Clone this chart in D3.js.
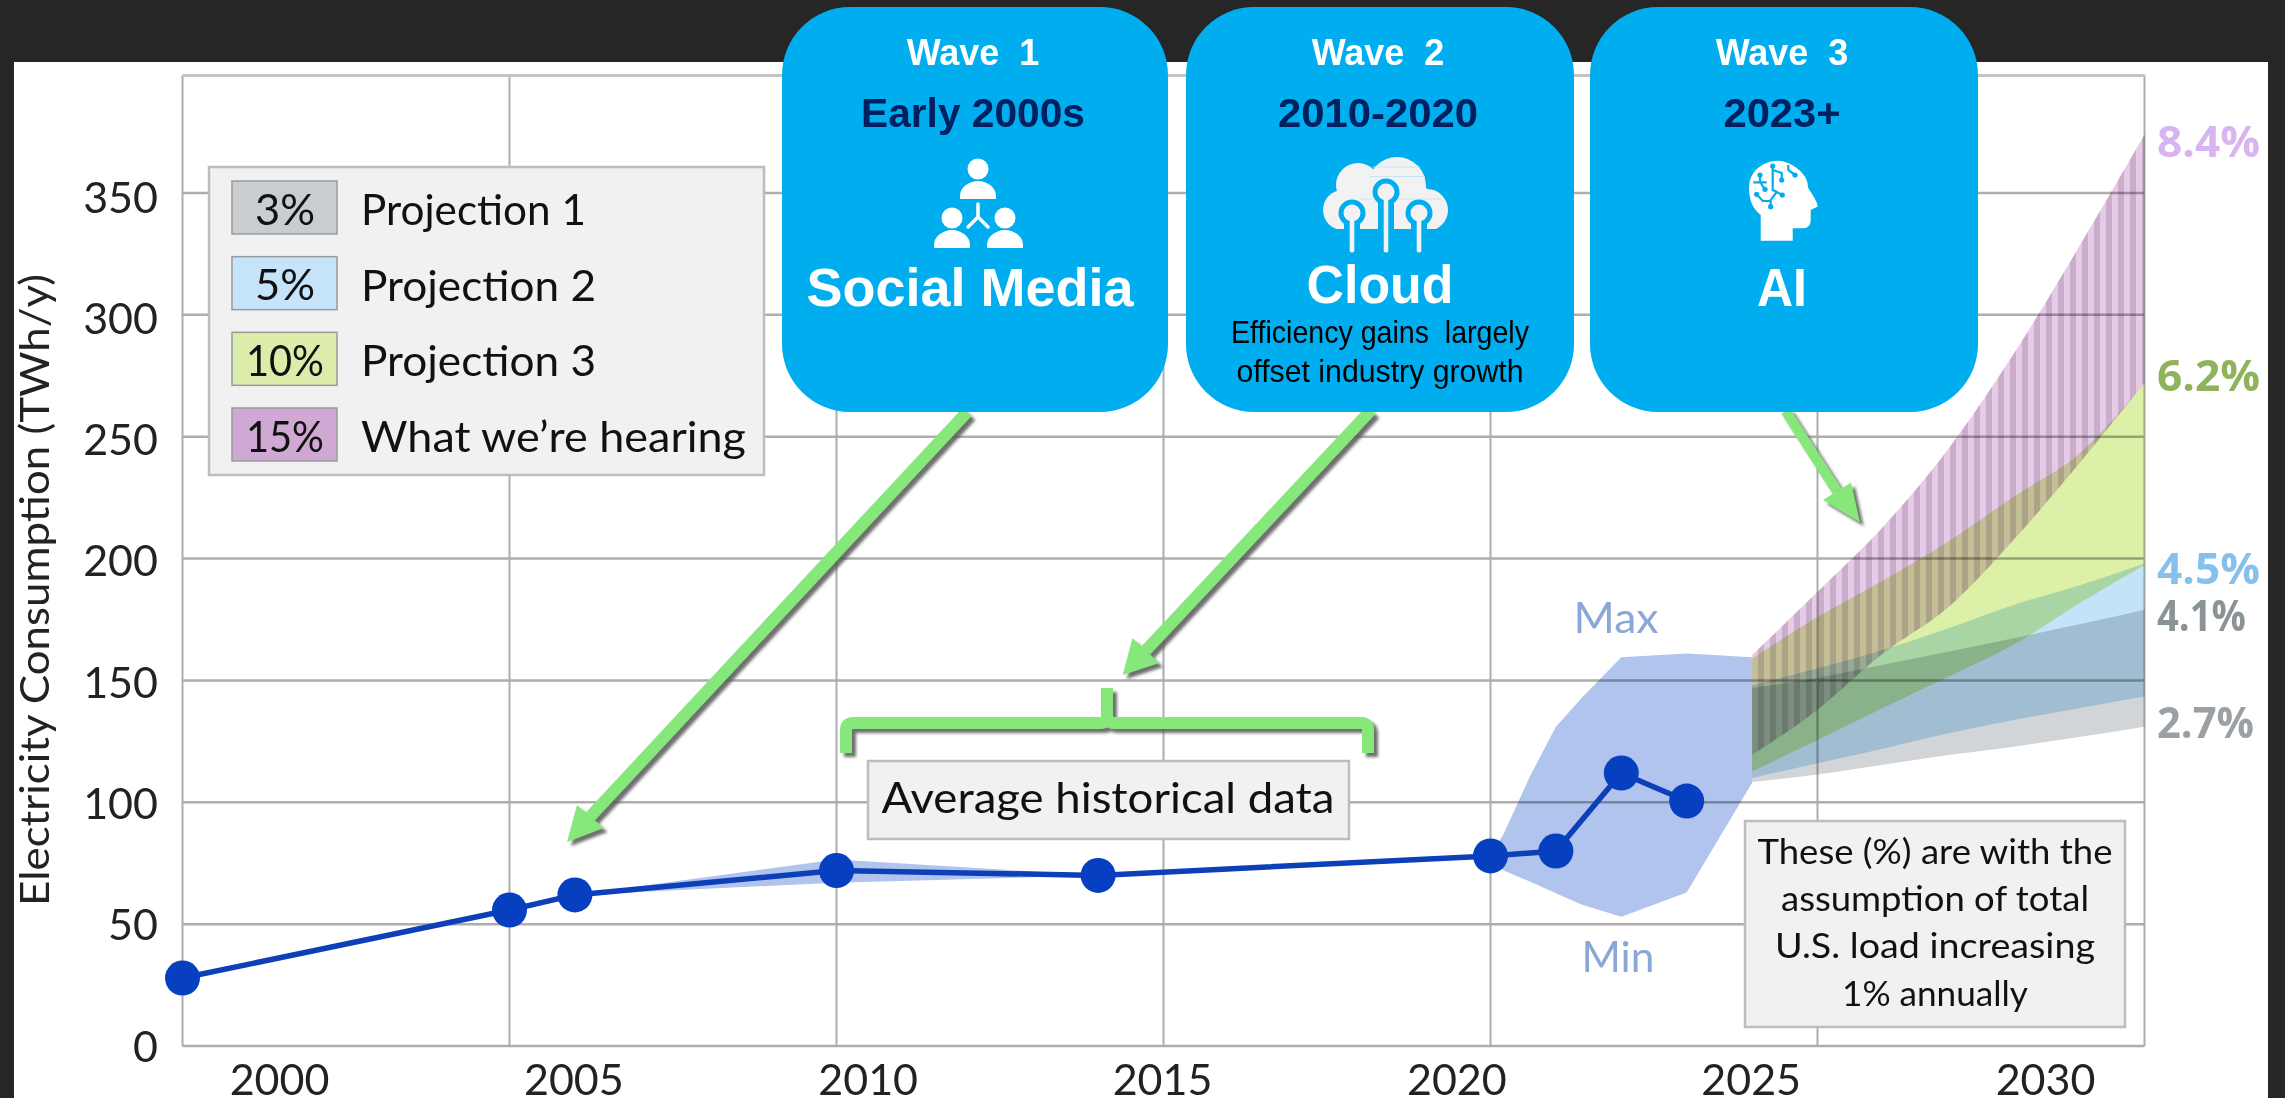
<!DOCTYPE html>
<html><head><meta charset="utf-8">
<script src="https://cdn.jsdelivr.net/npm/d3@7"></script>
<style>html,body{margin:0;padding:0;background:#262626;overflow:hidden}svg{display:block}text{font-family:Lato,"Open Sans",sans-serif}</style>
</head><body>
<script>
// ---- data ----
const xTicks=[2000,2005,2010,2015,2020,2025,2030];
const yTicks=[0,50,100,150,200,250,300,350];
const histYears=[2000,2005,2006,2010,2014,2020,2021,2022,2023];
const histValues=[27.9,55.8,62,72,70,78,80,112,100.5];
const earlyYears=[2006,2010,2014];
const earlyMax=[62,76.5,70];
const earlyMin=[62,67,70];
const spreadYears=[2020,2020.2,2020.6,2021,2021.4,2022,2023,2024];
const spreadMax=[78,87,110.5,131,143,159.5,161,159.5];
const spreadMin=[78,72,67.5,62.7,58,53,63,108];
const projYears=[2024,2025,2026,2027,2028,2029,2030];
const p1Top=[147,151,156.4,161.8,167.3,173,179];
const p1Bottom=[108.3,111.4,115.4,119.4,122.8,126.8,131];
const p2Top=[148,155,162.5,171.4,181,189,198];
const p2Bottom=[110,116,122,128.3,133.8,138.6,143.4];
const p3Top=[159,176,191,207,225.4,243,272];
const p3Bottom=[112.6,125.6,138.7,151.5,164.7,181.6,197.4];
const p4Top=[160.4,186.4,213,245,284,328,374];
const p4Bottom=[119.4,138,161,180,207.7,239,272];
const legendPct=["3%","5%","10%","15%"];
const legendNames=["Projection 1","Projection 2","Projection 3","What we’re hearing"];
const legendFill=["#c9cdd0","#c5e3f9","#dcedab","#cfa9d3"];
const endLabels=["8.4%","6.2%","4.5%","4.1%","2.7%"];
const noteLines=["These (%) are with the","assumption of total","U.S. load increasing","1% annually"];

// ---- frame ----
const W=2285,H=1098;
const svg=d3.select("body").append("svg").attr("width",W).attr("height",H);
const defs=svg.append("defs");
const f=defs.append("filter").attr("id","sh").attr("x","-20%").attr("y","-20%").attr("width","140%").attr("height","140%");
f.append("feDropShadow").attr("dx",4).attr("dy",4).attr("stdDeviation",1.5).attr("flood-color","#555").attr("flood-opacity",.85);
const pat=defs.append("pattern").attr("id","stripes").attr("patternUnits","userSpaceOnUse").attr("width",12).attr("height",20);
pat.append("rect").attr("width",12).attr("height",20).attr("fill","#e5cbe7");
pat.append("rect").attr("x",6).attr("width",6).attr("height",20).attr("fill","#c9adcb");
defs.append("clipPath").attr("id","cloudClip").append("rect").attr("x",1300).attr("y",140).attr("width",170).attr("height",89);

svg.append("rect").attr("width",W).attr("height",H).attr("fill","#262626");
svg.append("rect").attr("x",14).attr("y",62).attr("width",2254).attr("height",H-62).attr("fill","#fff");

const x=d3.scaleLinear().domain([2000,2030]).range([182.5,2144.5]);
const y=d3.scaleLinear().domain([0,350]).range([1046,193]);
const xLabel=d3.scaleLinear().domain([2000,2030]).range([279,2045]);
const yLabel=d3.scaleLinear().domain([0,350]).range([1061,212]);
const plotTop=75.5;

// grid
const grid=svg.append("g").attr("stroke","#adadad").attr("fill","none");
grid.selectAll(".v").data(xTicks).join("line").attr("x1",d=>x(d)).attr("x2",d=>x(d)).attr("y1",plotTop).attr("y2",y(0)).attr("stroke-width",2);
grid.selectAll(".h").data(yTicks).join("line").attr("x1",x(2000)).attr("x2",x(2030)).attr("y1",d=>y(d)).attr("y2",d=>y(d)).attr("stroke-width",2.5);
grid.append("line").attr("x1",x(2000)).attr("x2",x(2030)).attr("y1",plotTop).attr("y2",plotTop).attr("stroke-width",3).attr("stroke","#c4c4c4");

// axes labels
const ax=svg.append("g").attr("transform","translate(0,1095)").call(d3.axisBottom(xLabel).tickValues(xTicks).tickSize(0).tickFormat(d3.format("d")));
ax.select(".domain").remove();
ax.selectAll("text").attr("y",0).attr("dy",0).attr("font-size",43).attr("fill","#222").style("font-family","Lato");
const ay=svg.append("g").attr("transform","translate(158,0)").call(d3.axisLeft(yLabel).tickValues(yTicks).tickSize(0));
ay.select(".domain").remove();
ay.selectAll("text").attr("x",0).attr("dy",0).attr("font-size",43).attr("fill","#222").style("font-family","Lato");
svg.append("text").attr("transform","translate(49,906) rotate(-90)").attr("font-size",41).attr("fill","#222")
  .attr("textLength",632).attr("lengthAdjust","spacingAndGlyphs").text("Electricity Consumption (TWh/y)");

// bands
const band=(xs,hi,lo,curve)=>d3.area().x((d,i)=>x(xs[i])).y0((d,i)=>y(lo[i])).y1((d,i)=>y(hi[i])).curve(curve)(xs);
const hist=svg.append("g");
hist.append("path").attr("d",band(earlyYears,earlyMax,earlyMin,d3.curveLinear)).attr("fill","#b0c4ed").style("mix-blend-mode","multiply");
hist.append("path").attr("d",band(spreadYears,spreadMax,spreadMin,d3.curveLinear)).attr("fill","#b0c4ed").style("mix-blend-mode","multiply");
const proj=[[p4Top,p4Bottom,"url(#stripes)"],[p3Top,p3Bottom,"#dcf0a8"],[p2Top,p2Bottom,"#c3e3f8"],[p1Top,p1Bottom,"#d2d5d8"]];
svg.append("g").selectAll("path").data(proj).join("path")
  .attr("d",d=>band(projYears,d[0],d[1],d3.curveMonotoneX)).attr("fill",d=>d[2]).style("mix-blend-mode","multiply");

// legend
const lg=svg.append("g");
lg.append("rect").attr("x",209).attr("y",167).attr("width",555).attr("height",308).attr("fill","#f1f1f1").attr("stroke","#bdbdbd").attr("stroke-width",2.5);
const swY=d3.scalePoint().domain(legendPct).range([181,408]);
const pctW=[60,60,78,78],nameW=[225,235,235,385];
const row=lg.selectAll("g").data(legendPct).join("g").attr("transform",d=>`translate(0,${swY(d)})`);
row.append("rect").attr("x",232).attr("width",105).attr("height",53).attr("fill",(d,i)=>legendFill[i]).attr("stroke","#9a9a9a").attr("stroke-width",1.5);
row.append("text").attr("x",285).attr("y",43.5).attr("text-anchor","middle").attr("font-size",43).attr("fill","#111").attr("textLength",(d,i)=>pctW[i]).attr("lengthAdjust","spacingAndGlyphs").text(d=>d);
row.append("text").attr("x",361).attr("y",44).attr("font-size",43).attr("fill","#111").attr("textLength",(d,i)=>nameW[i]).attr("lengthAdjust","spacingAndGlyphs").text((d,i)=>legendNames[i]);

// history line + markers
const line=d3.line().x((d,i)=>x(histYears[i])).y(d=>y(d));
svg.append("path").attr("d",line(histValues)).attr("fill","none").attr("stroke","#0d3fb8").attr("stroke-width",5.5);
svg.append("g").selectAll("circle").data(histValues).join("circle")
  .attr("cx",(d,i)=>x(histYears[i])).attr("cy",d=>y(d)).attr("r",17.5).attr("fill","#0640c0");

// Max / Min
svg.append("text").attr("x",1616).attr("y",633).attr("text-anchor","middle").attr("font-size",43).attr("fill","#8aa7d8").attr("textLength",85).attr("lengthAdjust","spacingAndGlyphs").text("Max");
svg.append("text").attr("x",1618).attr("y",972).attr("text-anchor","middle").attr("font-size",43).attr("fill","#8aa7d8").attr("textLength",73).attr("lengthAdjust","spacingAndGlyphs").text("Min");

// end labels
const endPos=[157,391,584,631,737.5],endCol=["#d8b4f0","#8fb35a","#85c1ec","#8a9396","#9aa0a3"],endW=[103,103,103,89,97];
svg.append("g").selectAll("text").data(endLabels).join("text").attr("x",2157).attr("y",(d,i)=>endPos[i])
  .attr("font-size",43).attr("font-weight",700).attr("fill",(d,i)=>endCol[i]).attr("textLength",(d,i)=>endW[i]).attr("lengthAdjust","spacingAndGlyphs").style("font-family","Open Sans").text(d=>d);

// average box
svg.append("rect").attr("x",868).attr("y",761).attr("width",481).attr("height",78).attr("fill","#f1f1f1").attr("stroke","#bdbdbd").attr("stroke-width",2.5);
svg.append("text").attr("x",1108).attr("y",813).attr("text-anchor","middle").attr("font-size",43).attr("fill","#111").attr("textLength",453).attr("lengthAdjust","spacingAndGlyphs").text("Average historical data");

// note box
svg.append("rect").attr("x",1745).attr("y",821).attr("width",380).attr("height",206).attr("fill","#f1f1f1").attr("stroke","#bdbdbd").attr("stroke-width",2.5);
const noteW=[355,308,320,186];
svg.append("g").selectAll("text").data(noteLines).join("text").attr("x",1935).attr("y",(d,i)=>[864,911,958,1006][i])
  .attr("text-anchor","middle").attr("font-size",35).attr("fill","#111").attr("textLength",(d,i)=>noteW[i]).attr("lengthAdjust","spacingAndGlyphs").text(d=>d);

// arrows + bracket
const green="#86e87a";
const an=svg.append("g").attr("filter","url(#sh)");
function arrow(sx,sy,tx,ty,b1x,b1y,b2x,b2y,w){
  const mx=(b1x+b2x)/2,my=(b1y+b2y)/2;
  an.append("line").attr("x1",sx).attr("y1",sy).attr("x2",mx).attr("y2",my).attr("stroke",green).attr("stroke-width",w);
  an.append("path").attr("d",`M${tx},${ty}L${b1x},${b1y}L${b2x},${b2y}Z`).attr("fill",green);
}
arrow(967,412,567,842,577,805,603.5,828,12);
arrow(1371,410,1122.7,675,1132.5,638,1159,663,12);
arrow(1785.6,411,1859.7,522,1851,482.6,1823,500,10);
an.append("path").attr("d","M846,753V730Q846,723 853,723H1100Q1106,723 1107,716V688M1107,716Q1108,723 1114,723H1362Q1368,723 1368,730V753")
  .attr("fill","none").attr("stroke",green).attr("stroke-width",12);

// wave cards
const cards=[
 {x:782,w:386,t:"Wave  1",s:"Early 2000s",sw:224,n:"Social Media",ny:306,nc:970,nw:327},
 {x:1186,w:388,t:"Wave  2",s:"2010-2020",sw:200,n:"Cloud",ny:303,nc:1380,nw:147},
 {x:1590,w:388,t:"Wave  3",s:"2023+",sw:117,n:"AI",ny:306,nc:1782,nw:50}];
const cg=svg.append("g").selectAll("g").data(cards).join("g");
cg.append("rect").attr("x",d=>d.x).attr("y",7).attr("width",d=>d.w).attr("height",405).attr("rx",68).attr("ry",68).attr("fill","#00aeef");
const sans='"Liberation Sans",Arial,sans-serif';
cg.append("text").attr("x",d=>d.x+d.w/2-2).attr("y",65).attr("text-anchor","middle").attr("font-size",36).attr("font-weight",700).attr("fill","#fff").style("font-family",sans).style("white-space","pre").text(d=>d.t);
cg.append("text").attr("x",d=>d.x+d.w/2-2).attr("y",127).attr("text-anchor","middle").attr("font-size",41).attr("font-weight",700).attr("fill","#002060").style("font-family",sans).attr("textLength",d=>d.sw).attr("lengthAdjust","spacingAndGlyphs").text(d=>d.s);
cg.append("text").attr("x",d=>d.nc).attr("y",d=>d.ny).attr("text-anchor","middle").attr("font-size",53).attr("font-weight",700).attr("fill","#fff").style("font-family",sans).attr("textLength",d=>d.nw).attr("lengthAdjust","spacingAndGlyphs").text(d=>d.n);
const sub=[["Efficiency gains  largely",343,298],["offset industry growth",381.7,287]];
svg.append("g").selectAll("text").data(sub).join("text").attr("x",1380).attr("y",d=>d[1]).attr("text-anchor","middle").attr("font-size",32).attr("fill","#000").style("font-family",sans).attr("textLength",d=>d[2]).attr("lengthAdjust","spacingAndGlyphs").style("white-space","pre").text(d=>d[0]);

// icon: people
const ic=svg.append("g").attr("fill","#fff");
[[978,169],[952,218],[1005,218]].forEach(p=>ic.append("circle").attr("cx",p[0]).attr("cy",p[1]).attr("r",10.5));
[[960,199],[934,248],[987,248]].forEach(p=>ic.append("path").attr("d",`M${p[0]},${p[1]}v-3a18,15 0 0 1 36,0v3z`));
ic.append("path").attr("d","M978,204V217M978,217L968,227M978,217L988,227").attr("stroke","#fff").attr("stroke-width",3.5).attr("stroke-linecap","round").attr("fill","none");

// icon: cloud
const cl=svg.append("g");
const cb=cl.append("g").attr("clip-path","url(#cloudClip)").attr("fill","#f2f2f2");
[[1343,210,20],[1358,185,22],[1397,186,29],[1427,210,21]].forEach(c=>cb.append("circle").attr("cx",c[0]).attr("cy",c[1]).attr("r",c[2]));
cb.append("rect").attr("x",1343).attr("y",188).attr("width",84).attr("height",41);
[[1373,1420,167],[1370,1425,176.5],[1360,1372,199],[1396,1442,199]].forEach(l=>cl.append("line").attr("x1",l[0]).attr("x2",l[1]).attr("y1",l[2]).attr("y2",l[2]).attr("stroke","#c4e6f6").attr("stroke-width",1));
[[1352,213],[1386,192],[1419,213]].forEach(n=>{
  cl.append("circle").attr("cx",n[0]).attr("cy",n[1]).attr("r",13.5).attr("fill","#00aeef");
  cl.append("rect").attr("x",n[0]-8).attr("y",n[1]).attr("width",16).attr("height",229-n[1]).attr("fill","#00aeef");
  cl.append("circle").attr("cx",n[0]).attr("cy",n[1]).attr("r",8.5).attr("fill","#f2f2f2");
  cl.append("rect").attr("x",n[0]-2.3).attr("y",n[1]+6).attr("width",4.6).attr("height",252.5-n[1]-6).attr("rx",2).attr("fill","#f2f2f2");
});

// icon: AI head
const hd=svg.append("g");
hd.append("path").attr("fill","#fff").attr("d","M1760.7,240.7H1792.7V228.3H1803Q1810.7,228 1810.7,220V210L1817.3,206.7Q1819,204 1808.3,188.3Q1808,176 1796.7,168Q1780,156 1764,164Q1749,172 1749,188Q1749,206 1760.7,215Z");
hd.append("path").attr("fill","none").attr("stroke","#00aeef").attr("stroke-width",2.2)
  .attr("d","M1772.7,166V190L1777,192M1772.7,170L1781.7,173V180M1760,175V182L1765,189.3M1753.3,182.3H1766.7M1756.7,194.3L1762.7,201H1770L1776.7,192L1782.3,195M1770.7,206.7V200M1788.3,165V170L1795,175");
[[1772.7,166],[1781.7,180],[1760,175],[1765,189.3],[1756.7,194.3],[1770.7,206.7],[1782.3,195],[1795,175]].forEach(p=>hd.append("circle").attr("cx",p[0]).attr("cy",p[1]).attr("r",2.6).attr("fill","#00aeef"));
</script>
</body></html>
